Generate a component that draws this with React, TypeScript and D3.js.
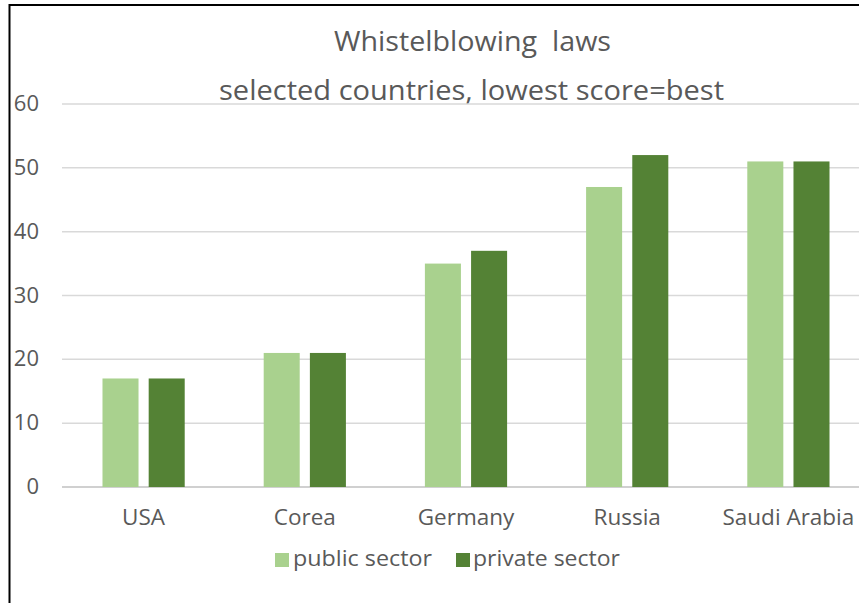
import React from "react";
import * as d3 from "d3";

const categories = ["USA", "Corea", "Germany", "Russia", "Saudi Arabia"];
const seriesNames = ["public sector", "private sector"];
const publicSector = [17, 21, 35, 47, 51];
const privateSector = [17, 21, 37, 52, 51];
const yTicks = [0, 10, 20, 30, 40, 50, 60];
const colors = ["#A9D18E", "#548235"];

const W = 859;
const H = 603;
const FONT = "'Open Sans', Lato, sans-serif";
const TXT = "#595959";

export default function App() {
  const x = d3
    .scaleBand<string>()
    .domain(categories)
    .range([63, 869])
    .paddingInner(0.49)
    .paddingOuter(0.245);
  const xs = d3
    .scaleBand<string>()
    .domain(seriesNames)
    .range([0, x.bandwidth()])
    .paddingInner(0.22);
  const y = d3.scaleLinear().domain([0, 60]).range([487, 104]);
  const data = [publicSector, privateSector];

  return (
    <svg
      width={W}
      height={H}
      style={{ position: "absolute", left: 0, top: 0, background: "#fff" }}
      fontFamily={FONT}
    >
      <rect x={0} y={0} width={W} height={H} fill="#fff" />
      <rect x={9.5} y={5} width={1000} height={1000} fill="none" stroke="#000" strokeWidth={2} />
      <text
        x={334}
        y={51}
        fontSize={27.5}
        fill={TXT}
        style={{ whiteSpace: "pre" }}
        textLength={277}
        lengthAdjust="spacingAndGlyphs"
      >
        {"Whistelblowing  laws"}
      </text>
      <text
        x={219}
        y={100}
        fontSize={27.5}
        fill={TXT}
        textLength={505}
        lengthAdjust="spacingAndGlyphs"
      >
        selected countries, lowest score=best
      </text>
      {yTicks.map((t) => (
        <g key={t}>
          <line
            x1={62}
            x2={W}
            y1={y(t)}
            y2={y(t)}
            stroke={t === 0 ? "#D0D0D0" : "#D9D9D9"}
            strokeWidth={t === 0 ? 2 : 1.5}
          />
          <text x={39} y={y(t) + 7} textAnchor="end" fontSize={22} fill={TXT}>
            {t}
          </text>
        </g>
      ))}
      {categories.map((c, i) => (
        <g key={c}>
          {seriesNames.map((s, j) => (
            <rect
              key={s}
              x={(x(c) as number) + (xs(s) as number)}
              y={y(data[j][i])}
              width={xs.bandwidth()}
              height={y(0) - y(data[j][i])}
              fill={colors[j]}
            />
          ))}
          <text
            x={(x(c) as number) + x.bandwidth() / 2}
            y={525}
            textAnchor="middle"
            fontSize={22.5}
            fill={TXT}
          >
            {c}
          </text>
        </g>
      ))}
      <g>
        <rect x={275} y={553} width={14} height={14} fill={colors[0]} />
        <text x={293} y={566} fontSize={21} fill={TXT} textLength={139} lengthAdjust="spacingAndGlyphs">
          {seriesNames[0]}
        </text>
        <rect x={456} y={553} width={14} height={14} fill={colors[1]} />
        <text x={473} y={566} fontSize={21} fill={TXT} textLength={147} lengthAdjust="spacingAndGlyphs">
          {seriesNames[1]}
        </text>
      </g>
    </svg>
  );
}
